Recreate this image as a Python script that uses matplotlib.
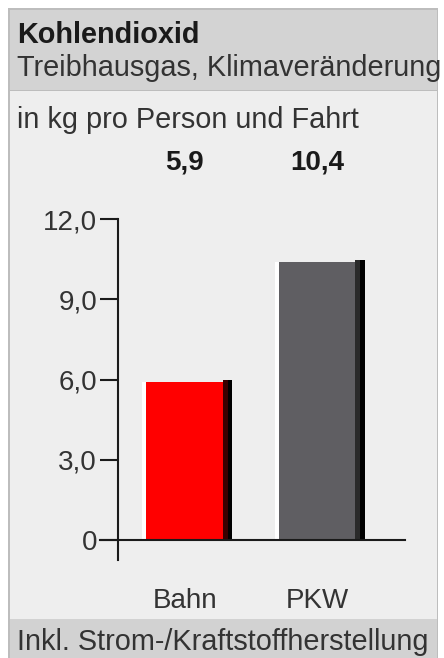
import matplotlib
matplotlib.use("Agg")
import matplotlib.pyplot as plt
from matplotlib import patches, transforms

plt.rcParams["font.family"] = ["Liberation Sans", "DejaVu Sans"]

# chart data
categories = ["Bahn", "PKW"]
values = [5.9, 10.4]
value_labels = ["5,9", "10,4"]
bar_colors = ["#ff0000", "#5f5e62"]
shade_colors = ["#3a0000", "#2a2a2a"]
y_ticks = [0, 3, 6, 9, 12]
y_tick_labels = ["0", "3,0", "6,0", "9,0", "12,0"]

title = "Kohlendioxid"
subtitle = "Treibhausgas, Klimaveränderung"
unit = "in kg pro Person und Fahrt"
footer = "Inkl. Strom-/Kraftstoffherstellung"

W, H = 444, 658
fig = plt.figure(figsize=(W / 100, H / 100), dpi=100, facecolor="white")


def px(x, y):
    """pixel position (from top-left) to figure fraction"""
    return x / W, 1 - y / H


def add_rect(x0, y0, x1, y1, color):
    fx, fy = px(x0, y1)
    fig.patches.append(patches.Rectangle(
        (fx, fy), (x1 - x0) / W, (y1 - y0) / H,
        transform=fig.transFigure, facecolor=color, edgecolor="none",
        zorder=-5))


# panel backgrounds
add_rect(8, 8, 438, 658, "#bdbdbd")
add_rect(10, 10, 437, 90, "#d3d3d3")
add_rect(10, 91, 437, 619, "#eeeeee")
add_rect(10, 619, 437, 658, "#d2d2d2")

text_kw = dict(fontsize=20.8, color="#333333", va="baseline")
fig.text(*px(17, 43), title, fontweight="bold", **{**text_kw, "color": "#1a1a1a"})
fig.text(*px(17, 76), subtitle, **text_kw)
fig.text(*px(17, 128), unit, **text_kw)
fig.text(*px(17, 650), footer, **text_kw)

# plot area
x_left, x_right, y_top, y_bottom = 100, 405, 218, 560
ax = fig.add_axes([x_left / W, 1 - y_bottom / H,
                   (x_right - x_left) / W, (y_bottom - y_top) / H])
ax.set_zorder(2)
ax.patch.set_visible(False)

ax.set_xlim(-0.66, 1.642)
ax.set_ylim(-0.748, 12.04)

w, hw, sw = 0.68, 0.03, 0.075
xs = list(range(len(categories)))
for x, v, c, sc in zip(xs, values, bar_colors, shade_colors):
    ax.bar(x, v, width=w, color=c, linewidth=0, zorder=2)
    # white highlight on the left edge
    ax.bar(x - w / 2 + hw / 2, v, width=hw, color="white", linewidth=0, zorder=3)
    # dark shadow on the right edge, a touch taller than the bar
    ax.bar(x + w / 2 - sw / 2, v + 0.08, width=sw, color=sc, linewidth=0, zorder=3)
    ax.bar(x + w / 2 - sw / 4, v + 0.08, width=sw / 2, color="black", linewidth=0, zorder=3)

for s in ["top", "right"]:
    ax.spines[s].set_visible(False)
ax.spines["left"].set_position(("data", -0.525))
ax.spines["left"].set_bounds(-0.748, 12)
ax.spines["bottom"].set_position(("data", 0))
for s in ["left", "bottom"]:
    ax.spines[s].set_linewidth(1.5)
    ax.spines[s].set_color("#1a1a1a")
    ax.spines[s].set_zorder(4)

ax.set_yticks(y_ticks, y_tick_labels)
ax.tick_params(axis="y", length=13, width=1.5, color="#1a1a1a", pad=2,
               labelsize=20, labelcolor="#333333")
ax.set_xticks([])

# value labels above and category labels below
trans = transforms.blended_transform_factory(ax.transData, fig.transFigure)
for x, lab, cat in zip(xs, value_labels, categories):
    ax.text(x - 0.02, px(0, 170)[1], lab, transform=trans, ha="center",
            va="baseline", fontsize=20, fontweight="bold", color="#1a1a1a")
    ax.text(x - 0.02, px(0, 608)[1], cat, transform=trans, ha="center",
            va="baseline", fontsize=20, color="#333333")

fig.savefig("out.png", dpi=100, facecolor=fig.get_facecolor())
